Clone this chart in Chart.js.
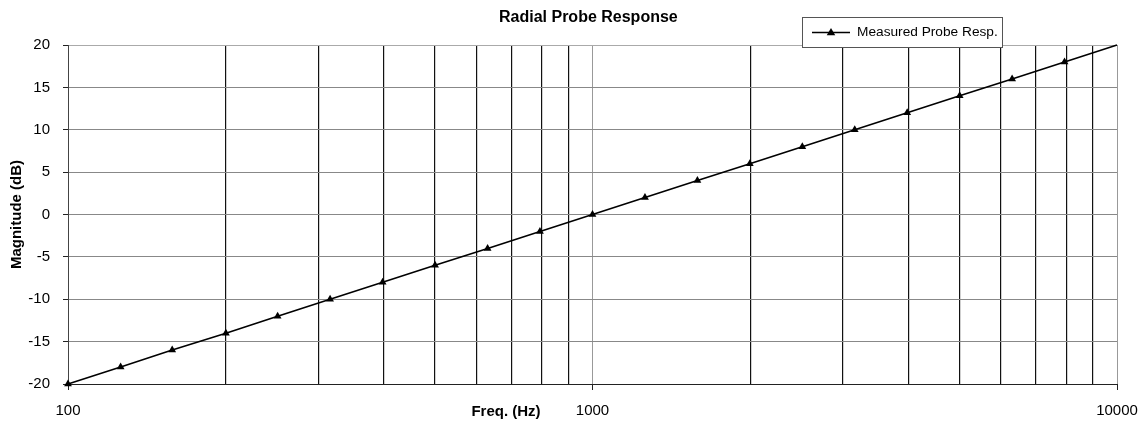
<!DOCTYPE html>
<html>
<head>
<meta charset="utf-8">
<script src="https://cdn.jsdelivr.net/npm/chart.js@4/dist/chart.umd.min.js"></script>
<style>
  html, body { margin: 0; padding: 0; background: #fff; }
  #wrap { width: 1144px; height: 421px; position: relative; }
</style>
</head>
<body>
<div id="wrap"><canvas id="c" width="1144" height="421"></canvas></div>
<script>
// Frequency (Hz) and measured magnitude (dB)
const freqHz = [100, 126, 158, 200, 251, 316, 398, 501, 631, 794, 1000,
                1259, 1585, 1995, 2512, 3162, 3981, 5012, 6310, 7943, 10000];
const magnitudeDb = [-20, -18, -16, -14, -12, -10, -8, -6, -4, -2, 0,
                     2, 4, 6, 8, 10, 12, 14, 16, 18, 20];
const xTickLabels = ['100', '1000', '10000'];
const yTicks = [-20, -15, -10, -5, 0, 5, 10, 15, 20];

const chartTitle = 'Radial Probe Response';
const xTitle = 'Freq. (Hz)';
const yTitle = 'Magnitude (dB)';
const seriesName = 'Measured Probe Resp.';

const FONT = '"Liberation Sans", Arial, sans-serif';

function triangle(ctx, x, y, r) {
  ctx.beginPath();
  ctx.moveTo(x, y - r);
  ctx.lineTo(x + r * 0.95, y + r * 0.6);
  ctx.lineTo(x - r * 0.95, y + r * 0.6);
  ctx.closePath();
  ctx.fill();
}

const textPlugin = {
  id: 'texts',
  afterDraw(chart) {
    const ctx = chart.ctx;
    const a = chart.chartArea;
    ctx.save();
    ctx.fillStyle = '#000';
    ctx.textBaseline = 'middle';
    ctx.textAlign = 'left';
    ctx.font = 'bold 16px ' + FONT;
    ctx.fillText(chartTitle, 499, 18);
    ctx.textAlign = 'center';
    ctx.font = 'bold 15px ' + FONT;
    ctx.fillText(xTitle, 506, 412);
    ctx.save();
    ctx.translate(17, (a.top + a.bottom) / 2);
    ctx.rotate(-Math.PI / 2);
    ctx.fillText(yTitle, 0, 0);
    ctx.restore();

    // legend box
    const lx = 802, ly = 17, lw = 200, lh = 30;
    ctx.fillStyle = '#fff';
    ctx.fillRect(lx, ly, lw, lh);
    ctx.strokeStyle = '#555';
    ctx.lineWidth = 1;
    ctx.strokeRect(lx + 0.5, ly + 0.5, lw, lh);
    const cy = ly + lh / 2 + 0.5;
    ctx.strokeStyle = '#000';
    ctx.lineWidth = 1.5;
    ctx.beginPath();
    ctx.moveTo(812, cy);
    ctx.lineTo(850, cy);
    ctx.stroke();
    ctx.fillStyle = '#000';
    triangle(ctx, 831, cy, 4.5);
    ctx.textAlign = 'left';
    ctx.font = '13.7px ' + FONT;
    ctx.fillText(seriesName, 857, cy);
    ctx.restore();
  }
};

const isDecade = v => Math.abs(Math.log10(v) - Math.round(Math.log10(v))) < 1e-9;

new Chart(document.getElementById('c'), {
  type: 'line',
  data: {
    datasets: [{
      label: seriesName,
      data: freqHz.map((f, i) => ({ x: f, y: magnitudeDb[i] })),
      borderColor: '#000',
      backgroundColor: '#000',
      borderWidth: 1.6,
      pointStyle: 'triangle',
      pointRadius: freqHz.map((f, i) => i === freqHz.length - 1 ? 0 : 4.5),
      pointBorderWidth: 0,
      pointBackgroundColor: '#000',
      clip: false,
      tension: 0
    }]
  },
  options: {
    responsive: false,
    animation: false,
    events: [],
    layout: { padding: { left: 0, right: 27, top: 45, bottom: 0 } },
    plugins: { legend: { display: false }, title: { display: false }, tooltip: { enabled: false } },
    scales: {
      x: {
        type: 'logarithmic',
        min: 100,
        max: 10000,
        afterBuildTicks(scale) {
          const t = [];
          for (let d = 100; d < 10000; d *= 10) {
            for (let m = 1; m < 10; m++) t.push({ value: d * m });
          }
          t.push({ value: 10000 });
          scale.ticks = t;
        },
        afterFit(scale) {
          scale.height = 37;
          scale.paddingLeft = 0;
          scale.paddingRight = 0;
        },
        border: { display: true, color: '#222', width: 1 },
        grid: {
          color: ctx => isDecade(ctx.tick.value) ? '#999' : '#111',
          lineWidth: ctx => isDecade(ctx.tick.value) ? 1 : 1.2,
          drawTicks: true,
          tickLength: 6,
          tickColor: ctx => isDecade(ctx.tick.value) ? '#222' : 'rgba(0,0,0,0)'
        },
        ticks: {
          autoSkip: false,
          maxRotation: 0,
          padding: 12,
          color: '#000',
          font: { family: FONT, size: 15 },
          callback: v => {
            const s = String(Math.round(v));
            return xTickLabels.includes(s) ? s : '';
          }
        }
      },
      y: {
        min: -20,
        max: 20,
        afterBuildTicks(scale) { scale.ticks = yTicks.map(v => ({ value: v })); },
        afterFit(scale) {
          scale.width = 68;
          scale.paddingTop = 0;
          scale.paddingBottom = 0;
        },
        border: { display: true, color: '#444', width: 1 },
        grid: {
          color: ctx => ctx.tick.value === 20 ? '#aaa' : (ctx.tick.value === -20 ? '#222' : '#888'),
          lineWidth: 1,
          drawTicks: true,
          tickLength: 5,
          tickColor: '#222'
        },
        ticks: {
          padding: 13,
          color: '#000',
          font: { family: FONT, size: 15 }
        }
      }
    }
  },
  plugins: [textPlugin]
});
</script>
</body>
</html>
